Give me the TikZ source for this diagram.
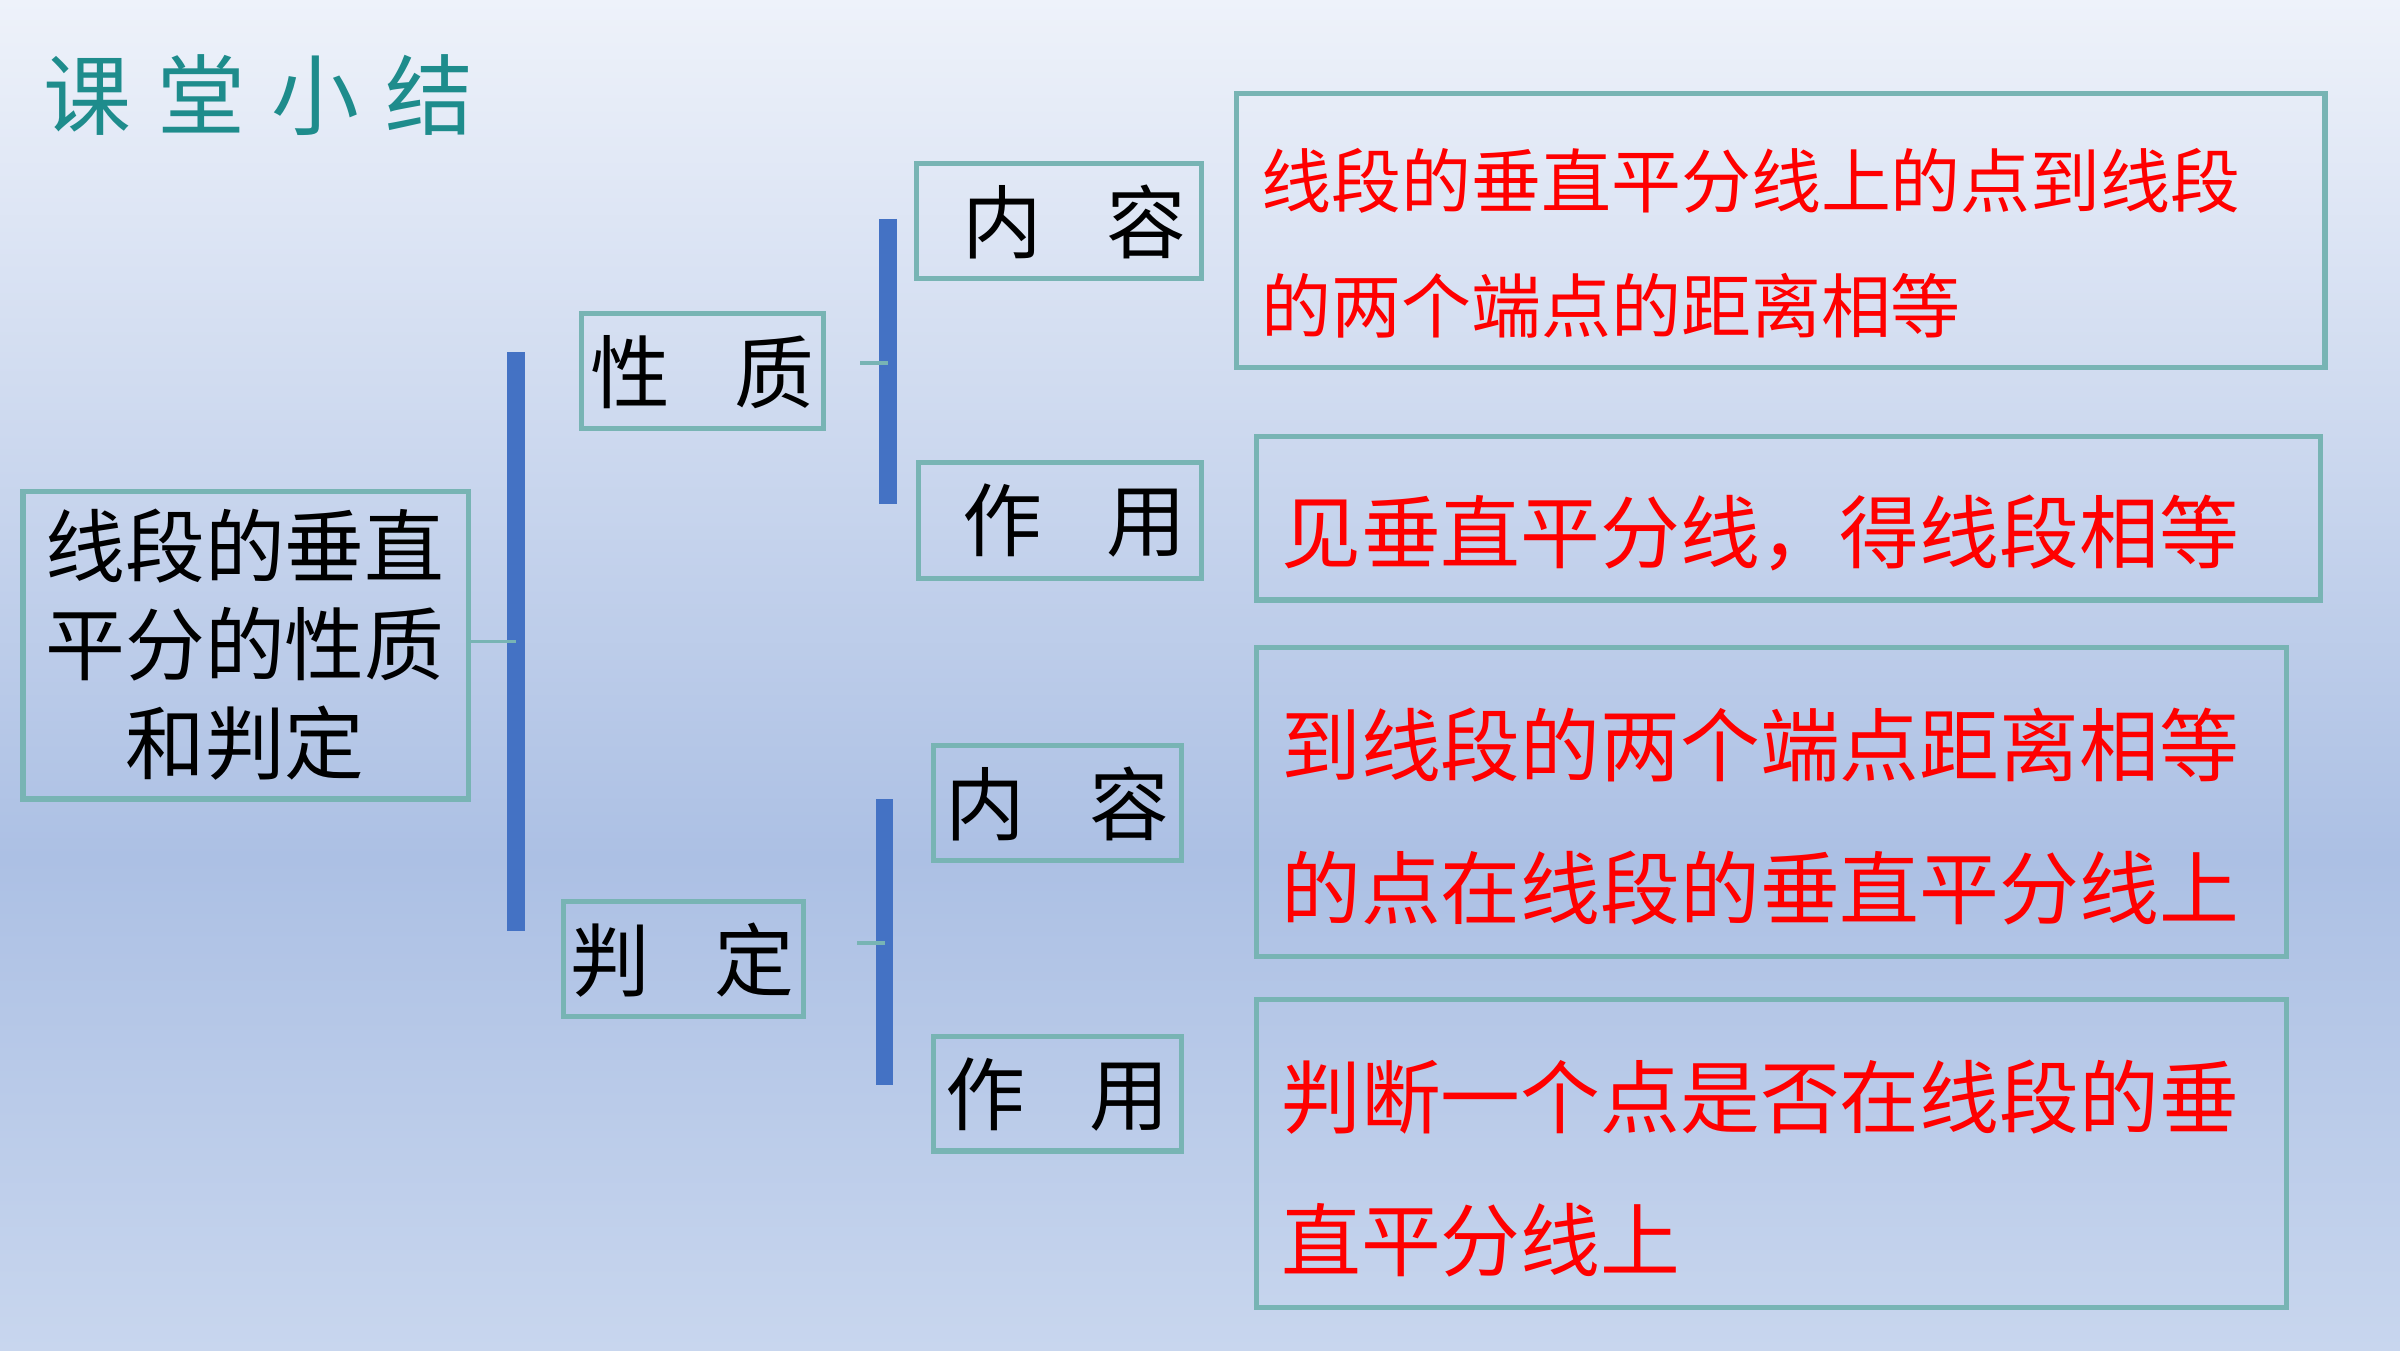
\documentclass[tikz,border=0pt]{standalone}
\usepackage{fontspec}
\newfontfamily\cjk{Noto Sans CJK SC}
\usetikzlibrary{positioning}
\definecolor{teal_title}{RGB}{30,140,140}
\definecolor{box_line}{RGB}{120,180,180}
\definecolor{bar_blue}{RGB}{68,114,196}
\begin{document}
\begin{tikzpicture}[x=0.015306cm,y=-0.015306cm,
  box/.style={draw=box_line,line width=1.5pt,inner sep=0pt},
  word/.style={font=\cjk\fontsize{22.7}{30}\selectfont,anchor=center},
  red_text/.style={font=\cjk\fontsize{22.7}{30}\selectfont,text=red,anchor=west},
  bar/.style={bar_blue,line width=5pt},
  tick/.style={box_line,line width=1pt}]

        % fond
        \shade[top color={rgb,255:red,238;green,242;blue,250},bottom color={rgb,255:red,172;green,192;blue,228}] (0,0) rectangle (1568,560);
        \shade[top color={rgb,255:red,172;green,192;blue,228},bottom color={rgb,255:red,200;green,214;blue,238}] (0,560) rectangle (1568,882);
        \useasboundingbox (0,0) rectangle (1568,882);

        % titre
        \node[font=\cjk\fontsize{25}{30}\selectfont,text=teal_title,anchor=west] (title) at (20,62) {课\hspace{0.3em}堂\hspace{0.3em}小\hspace{0.3em}结};

        % cadres
        \draw[box] (15,321) rectangle (306,522);
        \node[word,align=center] (main) at (160,421) {线段的垂直\\[-2pt]平分的性质\\[-2pt]和判定};
        \draw[box] (380,205) rectangle (538,280);
        \node[word] (xz) at (459,243) {性\hspace{0.8em}质};
        \draw[box] (368,589) rectangle (525,664);
        \node[word] (pd) at (446,627) {判\hspace{0.8em}定};
        \draw[box] (599,107) rectangle (785,182);
        \node[word] (nr1) at (702,145) {内\hspace{0.8em}容};
        \draw[box] (600,302) rectangle (785,378);
        \node[word] (zy1) at (702,340) {作\hspace{0.8em}用};
        \draw[box] (610,487) rectangle (772,562);
        \node[word] (nr2) at (691,525) {内\hspace{0.8em}容};
        \draw[box] (610,677) rectangle (772,752);
        \node[word] (zy2) at (691,715) {作\hspace{0.8em}用};

        % textes rouges
        \draw[box] (808,61) rectangle (1519,240);
        \node[red_text,font=\cjk\fontsize{19.9}{26}\selectfont] (t1a) at (816,118) {线段的垂直平分线上的点到线段};
        \node[red_text,font=\cjk\fontsize{19.9}{26}\selectfont] (t1b) at (816,200) {的两个端点的距离相等};
        \draw[box] (821,285) rectangle (1516,392);
        \node[red_text] (t2) at (829,348) {见垂直平分线，得线段相等};
        \draw[box] (821,423) rectangle (1494,625);
        \node[red_text] (t3a) at (829,487) {到线段的两个端点距离相等};
        \node[red_text] (t3b) at (829,580) {的点在线段的垂直平分线上};
        \draw[box] (821,653) rectangle (1494,854);
        \node[red_text] (t4a) at (829,717) {判断一个点是否在线段的垂};
        \draw (t4a.west) ++(0,93) node[red_text] (t4b) {直平分线上};

        % accolades
        \coordinate (b1) at (337,419);
        \coordinate (b2) at (580,237);
        \coordinate (b3) at (578,616);
        \draw[bar] (337,230) -- (337,608);
        \draw[bar] (580,143) -- (580,329);
        \draw[bar] (578,522) -- (578,709);
        \draw[tick] (306,419) -- (b1);
        \draw[tick] (562,237) -- (b2);
        \draw[tick] (560,616) -- (b3);
    \end{tikzpicture}
\end{document}
